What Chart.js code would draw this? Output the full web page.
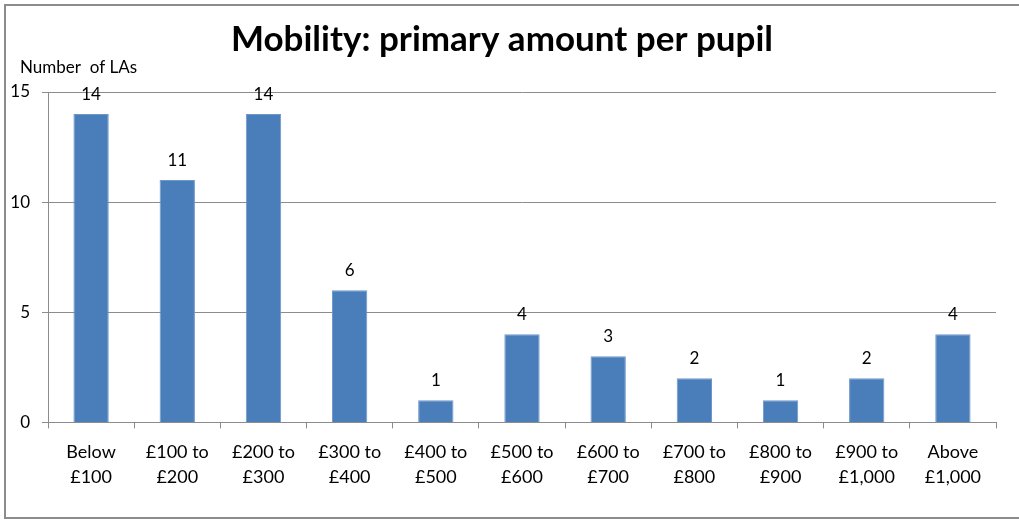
<!DOCTYPE html>
<html lang="en">
<head>
<meta charset="UTF-8" />
<title>Mobility: primary amount per pupil</title>
<style>
  body { margin: 0; background: #fff; }
  .wrap { width: 1019px; height: 520px; position: relative; }
</style>
</head>
<body>
<div class="wrap">
  <canvas id="mobilityChart"></canvas>
</div>

<script src="https://cdn.jsdelivr.net/npm/chart.js@4.4.0/dist/chart.umd.min.js"></script>
<script>
  const categories = [
    ['Below', '£100'], ['£100 to', '£200'], ['£200 to', '£300'], ['£300 to', '£400'],
    ['£400 to', '£500'], ['£500 to', '£600'], ['£600 to', '£700'], ['£700 to', '£800'],
    ['£800 to', '£900'], ['£900 to', '£1,000'], ['Above', '£1,000']
  ];
  const numberOfLAs = [14, 11, 14, 6, 1, 4, 3, 2, 1, 2, 4];
  const yTicks = [0, 5, 10, 15];

  const FONT = 'Lato, "Open Sans", sans-serif';
  const GRID = '#8c8c8c';

  // thin frame round the chart (left, top, bottom edges)
  const framePlugin = {
    id: 'frame',
    beforeDraw(chart) {
      const c = chart.ctx;
      c.save();
      c.strokeStyle = '#8c8c8c';
      c.lineWidth = 2;
      c.beginPath();
      c.moveTo(chart.width, 5);
      c.lineTo(5, 5);
      c.lineTo(5, 518);
      c.lineTo(chart.width, 518);
      c.stroke();
      c.restore();
    }
  };

  // value above each bar, plus the axis caption over the y axis
  const labelPlugin = {
    id: 'valueLabels',
    afterDatasetsDraw(chart) {
      const c = chart.ctx;
      const area = chart.chartArea;
      c.save();
      c.fillStyle = '#000';
      c.font = '17px ' + FONT;
      c.textAlign = 'center';
      c.textBaseline = 'middle';
      chart.getDatasetMeta(0).data.forEach((bar, i) => {
        c.fillText(String(numberOfLAs[i]), bar.x, bar.y - 20);
      });
      c.textAlign = 'left';
      c.fillText('Number  of LAs', area.left - 28, area.top - 24);
      c.restore();
    }
  };

  new Chart(document.getElementById('mobilityChart'), {
    type: 'bar',
    data: {
      labels: categories,
      datasets: [{
        data: numberOfLAs,
        backgroundColor: '#4a7ebb',
        borderColor: '#6f97cc',
        borderWidth: 1,
        barPercentage: 0.41,
        categoryPercentage: 1.0
      }]
    },
    options: {
      responsive: true,
      maintainAspectRatio: false,
      animation: false,
      layout: { padding: { left: 8, right: 23, top: 5, bottom: 19 } },
      plugins: {
        legend: { display: false },
        tooltip: { enabled: false },
        title: {
          display: true,
          text: 'Mobility: primary amount per pupil',
          color: '#000',
          font: { family: FONT, size: 35, weight: 'bold' },
          padding: { top: 14, bottom: 31 }
        }
      },
      scales: {
        x: {
          grid: { display: true, drawOnChartArea: false, offset: true, color: GRID, tickLength: 6 },
          border: { color: GRID, width: 1 },
          ticks: {
            color: '#000',
            padding: 12,
            maxRotation: 0,
            autoSkip: false,
            font: { family: FONT, size: 18, lineHeight: 1.35 }
          }
        },
        y: {
          min: 0,
          max: 15,
          afterFit(scale) { scale.width = 40; },
          afterBuildTicks(scale) { scale.ticks = yTicks.map(v => ({ value: v })); },
          grid: { color: GRID, tickLength: 6 },
          border: { color: GRID, width: 1 },
          ticks: {
            color: '#000',
            padding: 12,
            font: { family: FONT, size: 17 }
          }
        }
      }
    },
    plugins: [framePlugin, labelPlugin]
  });
</script>
</body>
</html>
